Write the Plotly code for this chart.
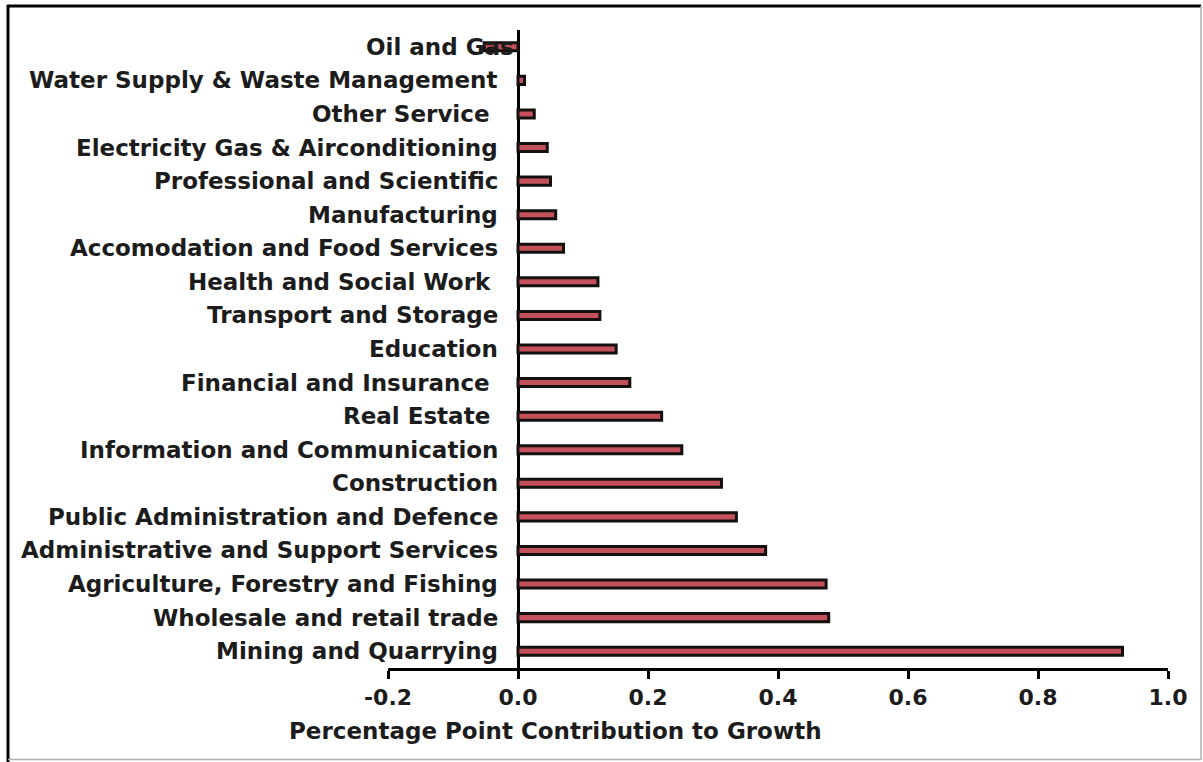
import plotly.graph_objects as go

# Data (top to bottom as shown)
categories = [
    "Oil and Gas",
    "Water Supply & Waste Management",
    "Other Service ",
    "Electricity Gas & Airconditioning",
    "Professional and Scientific",
    "Manufacturing",
    "Accomodation and Food Services",
    "Health and Social Work ",
    "Transport and Storage",
    "Education",
    "Financial and Insurance ",
    "Real Estate ",
    "Information and Communication",
    "Construction",
    "Public Administration and Defence",
    "Administrative and Support Services",
    "Agriculture, Forestry and Fishing",
    "Wholesale and retail trade",
    "Mining and Quarrying",
]
values = [
    -0.052, 0.010, 0.025, 0.045, 0.050, 0.058, 0.070, 0.123, 0.126, 0.151,
    0.172, 0.221, 0.252, 0.313, 0.336, 0.381, 0.474, 0.478, 0.930,
]
tick_values = [-0.2, 0.0, 0.2, 0.4, 0.6, 0.8, 1.0]
tick_labels = ["-0.2", "0.0", "0.2", "0.4", "0.6", "0.8", "1.0"]
x_title = "Percentage Point Contribution to Growth"

W, H = 1203, 762
L, R, T, B = 388, 35, 30, 94
pw, ph = W - L - R, H - T - B


def px(x):
    return (x - L) / pw


def py(y):
    return (H - B - y) / ph


fig = go.Figure(
    go.Bar(
        y=categories,
        x=values,
        orientation="h",
        width=0.24,
        marker=dict(color="#C4505A", line=dict(color="#151010", width=3)),
    )
)

bold = dict(family="DejaVu Sans", weight="bold", color="#1c1c1c")

for c, v in zip(categories, values):
    fig.add_annotation(
        x=0, y=c, xref="x", yref="y",
        text=c.replace(" ", "\u00a0"),
        showarrow=False, xanchor="right", yanchor="middle",
        xshift=-2 if v < 0 else -18,
        font=dict(size=23, **bold),
    )

fig.add_annotation(
    x=px(555), y=py(731), xref="paper", yref="paper",
    text=x_title, showarrow=False, xanchor="center", yanchor="middle",
    font=dict(size=23, **bold),
)

# frame around the picture
fig.add_shape(type="line", xref="paper", yref="paper",
              x0=px(7), x1=px(1201), y0=py(6), y1=py(6),
              line=dict(color="#000000", width=3))
fig.add_shape(type="line", xref="paper", yref="paper",
              x0=px(8), x1=px(8), y0=py(5), y1=py(762),
              line=dict(color="#000000", width=3))
fig.add_shape(type="line", xref="paper", yref="paper",
              x0=px(1201), x1=px(1201), y0=py(6), y1=py(760),
              line=dict(color="#b0b0b0", width=1.5))
fig.add_shape(type="line", xref="paper", yref="paper",
              x0=px(8), x1=px(1201), y0=py(759.5), y1=py(759.5),
              line=dict(color="#b0b0b0", width=1.5))

fig.update_layout(
    width=W, height=H,
    margin=dict(l=L, r=R, t=T, b=B, pad=0),
    paper_bgcolor="white", plot_bgcolor="white",
    showlegend=False,
    xaxis=dict(
        range=[-0.2, 1.0],
        tickvals=tick_values, ticktext=tick_labels,
        showgrid=False,
        showline=True, linecolor="#000000", linewidth=3,
        ticks="outside", ticklen=8, tickwidth=3, tickcolor="#000000",
        zeroline=True, zerolinecolor="#000000", zerolinewidth=3,
        tickfont=dict(size=22, **bold),
        ticklabelstandoff=0,
        fixedrange=True,
    ),
    yaxis=dict(
        autorange="reversed",
        showticklabels=False, showgrid=False, showline=False,
        ticks="", zeroline=False,
        fixedrange=True,
    ),
)

fig.write_html(
    "out.html",
    config={"displayModeBar": False},
    post_script="document.body.style.margin='0px';document.body.style.overflow='hidden';",
)
